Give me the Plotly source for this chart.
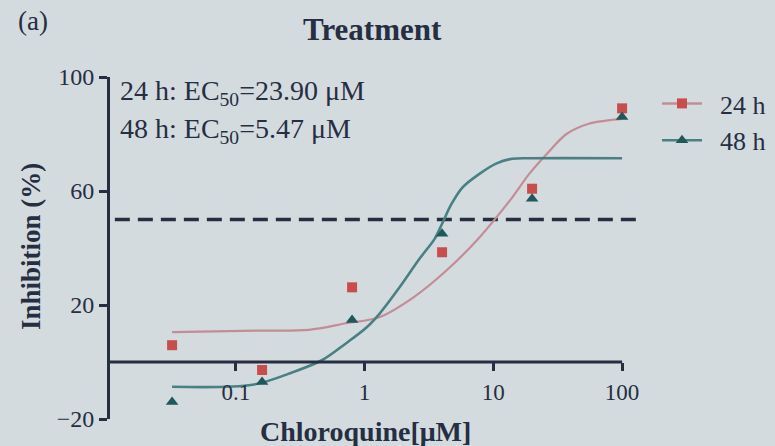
import plotly.graph_objects as go

# ---- data ----
dose = [0.032, 0.16, 0.8, 4, 20, 100]
inh_24h = [5.9, -2.8, 26.2, 38.5, 60.8, 89]
inh_48h = [-14, -7, 14.7, 45, 57.3, 86]

fit24_x = [0.032, 0.15, 0.37, 0.72, 1.3, 2.4, 4.3, 7.8, 14, 19, 26, 37, 55, 84, 100]
fit24_y = [10.5, 11, 11.3, 13.6, 15.7, 22.7, 32, 43.7, 57.7, 66, 73, 80, 83.6, 85, 85.3]

fit48_x = [0.032, 0.135, 0.28, 0.47, 0.72, 1.04, 1.31, 1.87, 2.67, 3.5, 4.0, 4.7,
           5.75, 7.8, 10.5, 14, 20, 100]
fit48_y = [-8.7, -8, -3.5, 0.7, 6.6, 12.2, 17, 26.2, 36.2, 43.2, 48.5, 55.2,
           61.2, 66, 69.6, 71.3, 71.5, 71.5]

ref_level = 50
ref_x = [0.0115, 130]

x_ticks = [0.1, 1, 10, 100]
x_ticktext = ["0.1", "1", "10", "100"]
y_ticks = [-20, 20, 60, 100]

series_names = ["24 h", "48 h"]
ec50_text = ["24 h: EC<sub>50</sub>=23.90 μM", "48 h: EC<sub>50</sub>=5.47 μM"]

# ---- styles ----
FONT = "Liberation Serif"
INK = "rgb(38,46,66)"
BG = "rgb(211,219,223)"
RED_M = "rgb(200,78,78)"
RED_L = "rgb(196,140,150)"
GRN_M = "rgb(30,88,90)"
GRN_L = "rgb(72,128,132)"
NB = "\u00a0\u00a0"  # gap between legend symbol and label

fig = go.Figure()

# reference dashed line
fig.add_trace(go.Scatter(x=ref_x, y=[ref_level, ref_level], mode="lines",
                         line=dict(color=INK, width=3.5, dash="15px,8px"),
                         showlegend=False, hoverinfo="skip"))

# fitted curves
fig.add_trace(go.Scatter(x=fit24_x, y=fit24_y, mode="lines", line_shape="spline",
                         line=dict(color=RED_L, width=2.2, smoothing=0.9), showlegend=False))
fig.add_trace(go.Scatter(x=fit48_x, y=fit48_y, mode="lines", line_shape="spline",
                         line=dict(color=GRN_L, width=2.6, smoothing=0.9), showlegend=False))

# data points
fig.add_trace(go.Scatter(x=dose, y=inh_24h, mode="markers",
                         marker=dict(symbol="square", size=10, color=RED_M),
                         showlegend=False, cliponaxis=False))
fig.add_trace(go.Scatter(x=dose, y=inh_48h, mode="markers",
                         marker=dict(symbol="triangle-up", size=11, color=GRN_M),
                         showlegend=False, cliponaxis=False))

# legend entries
fig.add_trace(go.Scatter(x=[None], y=[None], mode="lines+markers", name=NB + series_names[0],
                         line=dict(color=RED_L, width=2.5),
                         marker=dict(symbol="square", size=10, color=RED_M)))
fig.add_trace(go.Scatter(x=[None], y=[None], mode="lines+markers", name=NB + series_names[1],
                         line=dict(color=GRN_L, width=2.5),
                         marker=dict(symbol="triangle-up", size=11, color=GRN_M)))

# x axis line drawn at y = 0, ending at 100
fig.add_shape(type="line", xref="x", yref="y", x0=0.01054, x1=100, y0=0, y1=0,
              line=dict(color=INK, width=3))

fig.update_layout(
    width=775, height=446,
    margin=dict(l=110, r=130, t=77, b=27),
    paper_bgcolor=BG, plot_bgcolor=BG,
    font=dict(family=FONT, color=INK, size=23),
    showlegend=True,
    legend=dict(xref="container", yref="container", x=657 / 775, xanchor="left",
                y=1 - 80 / 446, yanchor="top",
                bgcolor="rgba(0,0,0,0)", font=dict(size=26, family=FONT, color=INK),
                itemwidth=40, tracegroupgap=0),
    xaxis=dict(type="log", range=[-1.977, 2.178], anchor="free", position=20 / 120,
               showline=False, showgrid=False, zeroline=False,
               tickvals=x_ticks, ticktext=x_ticktext, ticks="outside",
               ticklen=8, tickwidth=2.5, tickcolor=INK, ticklabelstandoff=1,
               tickfont=dict(size=23, family=FONT, color=INK)),
    yaxis=dict(range=[-20, 100], showline=True, linewidth=3, linecolor=INK,
               showgrid=False, zeroline=False, tickvals=y_ticks, ticks="outside",
               ticklen=8, tickwidth=2.5, tickcolor=INK, ticklabelstandoff=0,
               tickfont=dict(size=24, family=FONT, color=INK)),
)

# title
fig.add_annotation(text="<b>Treatment</b>", xref="paper", yref="paper",
                   x=(372 - 110) / 535, y=(419 - 29) / 342, xanchor="center",
                   yanchor="middle", showarrow=False,
                   font=dict(size=31, family=FONT, color=INK))

# panel label
fig.add_annotation(text="(a)", xref="paper", yref="paper", x=(33 - 110) / 535,
                   y=(419 - 21) / 342, xanchor="center", yanchor="middle",
                   showarrow=False, font=dict(size=27, family=FONT, color=INK))

# EC50 texts
for i, t in enumerate(ec50_text):
    fig.add_annotation(text=t, xref="paper", yref="paper", x=(118 - 110) / 535,
                       y=(419 - (92 + 38 * i)) / 342, xanchor="left", yanchor="middle",
                       showarrow=False, font=dict(size=28, family=FONT, color=INK))

# axis titles
fig.add_annotation(text="<b>Chloroquine[μM]</b>", xref="paper", yref="paper",
                   x=(365 - 110) / 535, y=(419 - 431) / 342, xanchor="center",
                   yanchor="middle", showarrow=False,
                   font=dict(size=28, family=FONT, color=INK))
fig.add_annotation(text="<b>Inhibition (%)</b>", xref="paper", yref="paper",
                   x=(31 - 110) / 535, y=(419 - 247) / 342, xanchor="center",
                   yanchor="middle", textangle=-90, showarrow=False,
                   font=dict(size=27, family=FONT, color=INK))

fig.write_html(
    "out.html",
    config={"displayModeBar": False},
    post_script="document.body.style.margin='0px';"
                "document.body.style.background='" + BG + "';"
                "document.documentElement.style.background='" + BG + "';"
)
